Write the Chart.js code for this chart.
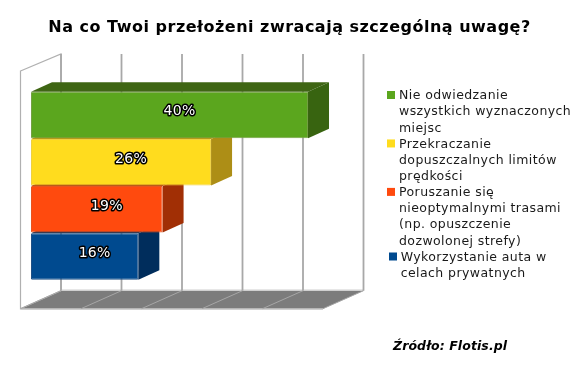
<!DOCTYPE html>
<html lang="pl">
<head>
<meta charset="utf-8">
<title>Na co Twoi przełożeni zwracają szczególną uwagę?</title>
<style>html,body{margin:0;padding:0;background:#fff}canvas{display:block}</style>
<script src="https://cdn.jsdelivr.net/npm/chart.js@4/dist/chart.umd.min.js"></script>
</head>
<body>
<canvas id="c" width="585" height="371"></canvas>
<script>
const chartTitle = 'Na co Twoi przełożeni zwracają szczególną uwagę?';
const sourceNote = 'Źródło: Flotis.pl';
const categories = ['Nie odwiedzanie wszystkich wyznaczonych miejsc', 'Przekraczanie dopuszczalnych limitów prędkości', 'Poruszanie się nieoptymalnymi trasami (np. opuszczenie dozwolonej strefy)', 'Wykorzystanie auta w celach prywatnych'];
const values = [40, 26, 19, 15.5];
const frontColors = ['#5BA61E', '#FFDC1E', '#FF4A0E', '#004A8F'];
const sideColors = ['#386410', '#AD8E16', '#A12F05', '#002D5C'];
const topColors = ['#3F6614', '#B89A18', '#A8340A', '#00305F'];
const edgeColors = ['#74A043', '#EFD040', '#E8541F', '#1F4F85'];
const legendLines = [
  ['Nie odwiedzanie', 'wszystkich wyznaczonych', 'miejsc'],
  ['Przekraczanie', 'dopuszczalnych limitów', 'prędkości'],
  ['Poruszanie się', 'nieoptymalnymi trasami', '(np. opuszczenie', 'dozwolonej strefy)'],
  ['Wykorzystanie auta w', 'celach prywatnych']
];
const gridStep = 8.736;
const axisMax = 43.68;

const BAR_DX = 21, BAR_DY = -9.5;
const FRONT_DX = -10.5, FRONT_DY = 28.7, BACK_DX = 30, BACK_DY = 10.7;
const TOP_Y = 54, WALL_RISE = 17;

function poly(ctx, pts, fill, stroke, lw) {
  ctx.beginPath();
  pts.forEach((p, i) => i ? ctx.lineTo(p[0], p[1]) : ctx.moveTo(p[0], p[1]));
  ctx.closePath();
  if (fill) { ctx.fillStyle = fill; ctx.fill(); }
  if (stroke) { ctx.strokeStyle = stroke; ctx.lineWidth = lw || 1; ctx.stroke(); }
}

const scene = {
  id: 'scene',
  beforeDatasetsDraw(chart) {
    const { ctx, chartArea: a, scales: { x } } = chart;
    const floorF = a.bottom + FRONT_DY, floorB = a.bottom + BACK_DY;
    const x0 = x.getPixelForValue(0), xN = x.getPixelForValue(axisMax);
    ctx.save();
    // floor
    poly(ctx, [[x0 + FRONT_DX, floorF], [xN + FRONT_DX, floorF], [xN + BACK_DX, floorB], [x0 + BACK_DX, floorB]], '#7C7C7C');
    // left wall
    poly(ctx, [[x0 + FRONT_DX, TOP_Y + WALL_RISE], [x0 + BACK_DX, TOP_Y], [x0 + BACK_DX, floorB], [x0 + FRONT_DX, floorF]], '#FFFFFF', '#B0B0B0', 1.2);
    // back wall baseline and floor front edge
    ctx.strokeStyle = '#D0D0D0'; ctx.lineWidth = 1.5;
    ctx.beginPath(); ctx.moveTo(x0 + BACK_DX, floorB - 0.5); ctx.lineTo(xN + BACK_DX, floorB - 0.5); ctx.stroke();
    ctx.beginPath(); ctx.moveTo(x0 + FRONT_DX, floorF + 0.5); ctx.lineTo(xN + FRONT_DX, floorF + 0.5); ctx.stroke();
    // gridlines from the axis ticks
    x.ticks.forEach(t => {
      const px = x.getPixelForValue(t.value);
      ctx.strokeStyle = '#A8A8A8'; ctx.lineWidth = 1.8;
      ctx.beginPath(); ctx.moveTo(px + BACK_DX, TOP_Y); ctx.lineTo(px + BACK_DX, floorB); ctx.stroke();
      ctx.strokeStyle = '#A6A6A6'; ctx.lineWidth = 1;
      ctx.beginPath(); ctx.moveTo(px + BACK_DX, floorB); ctx.lineTo(px + FRONT_DX, floorF); ctx.stroke();
    });
    // bar depth faces, lowest bar first
    const bars = chart.getDatasetMeta(0).data;
    for (let i = bars.length - 1; i >= 0; i--) {
      const b = bars[i];
      const top = b.y - b.height / 2, bot = b.y + b.height / 2;
      poly(ctx, [[b.base, top], [b.x, top], [b.x + BAR_DX, top + BAR_DY], [b.base + BAR_DX, top + BAR_DY]], topColors[i]);
      poly(ctx, [[b.x, top], [b.x + BAR_DX, top + BAR_DY], [b.x + BAR_DX, bot + BAR_DY], [b.x, bot]], sideColors[i]);
    }
    ctx.restore();
  },
  afterDatasetsDraw(chart) {
    const { ctx } = chart;
    ctx.save();
    // value labels
    ctx.textAlign = 'center'; ctx.textBaseline = 'middle';
    ctx.font = '14px "DejaVu Sans"';
    ctx.letterSpacing = '0.3px';
    ctx.lineJoin = 'round';
    chart.getDatasetMeta(0).data.forEach((b, i) => {
      const tx = (b.base + b.x + BAR_DX) / 2 - 0.5, ty = b.y + BAR_DY / 2 + 1.5;
      const s = Math.round(values[i]) + '%';
      ctx.strokeStyle = '#000'; ctx.lineWidth = 3; ctx.strokeText(s, tx, ty);
      ctx.fillStyle = '#fff'; ctx.fillText(s, tx, ty);
    });
    // title
    ctx.fillStyle = '#000';
    ctx.font = 'bold 16px "DejaVu Sans"';
    ctx.letterSpacing = '0.5px';
    ctx.fillText(chartTitle, 289.5, 28);
    // legend
    ctx.textAlign = 'left';
    ctx.font = '12.5px "DejaVu Sans"';
    ctx.letterSpacing = '0.42px';
    let ly = 95;
    legendLines.forEach((lines, i) => {
      const last = i === legendLines.length - 1;
      const bx = last ? 389 : 387, tx = last ? 400.7 : 399;
      ctx.fillStyle = frontColors[i];
      ctx.fillRect(bx, ly - 4, 8, 8);
      ctx.fillStyle = '#1a1a1a';
      lines.forEach(l => { ctx.fillText(l, tx, ly + 1); ly += 16.15; });
    });
    // source
    ctx.font = 'italic bold 12.5px "DejaVu Sans"';
    ctx.letterSpacing = '0.1px';
    ctx.fillStyle = '#000';
    ctx.fillText(sourceNote, 393, 347);
    ctx.restore();
  }
};

new Chart(document.getElementById('c'), {
  type: 'bar',
  data: {
    labels: categories,
    datasets: [{
      data: values,
      backgroundColor: frontColors,
      borderColor: edgeColors,
      borderWidth: 1,
      borderRadius: 1,
      borderSkipped: false,
      barPercentage: 0.985,
      categoryPercentage: 1
    }]
  },
  options: {
    indexAxis: 'y',
    responsive: false,
    animation: false,
    devicePixelRatio: 1,
    layout: { padding: { left: 31, right: 251.5, top: 91.5, bottom: 91 } },
    plugins: { legend: { display: false }, title: { display: false }, tooltip: { enabled: false } },
    scales: {
      x: {
        display: false, min: 0, max: axisMax,
        afterBuildTicks(s) { s.ticks = [0, 1, 2, 3, 4, 5].map(k => ({ value: k * gridStep })); }
      },
      y: { display: false }
    }
  },
  plugins: [scene]
});
</script>
</body>
</html>
